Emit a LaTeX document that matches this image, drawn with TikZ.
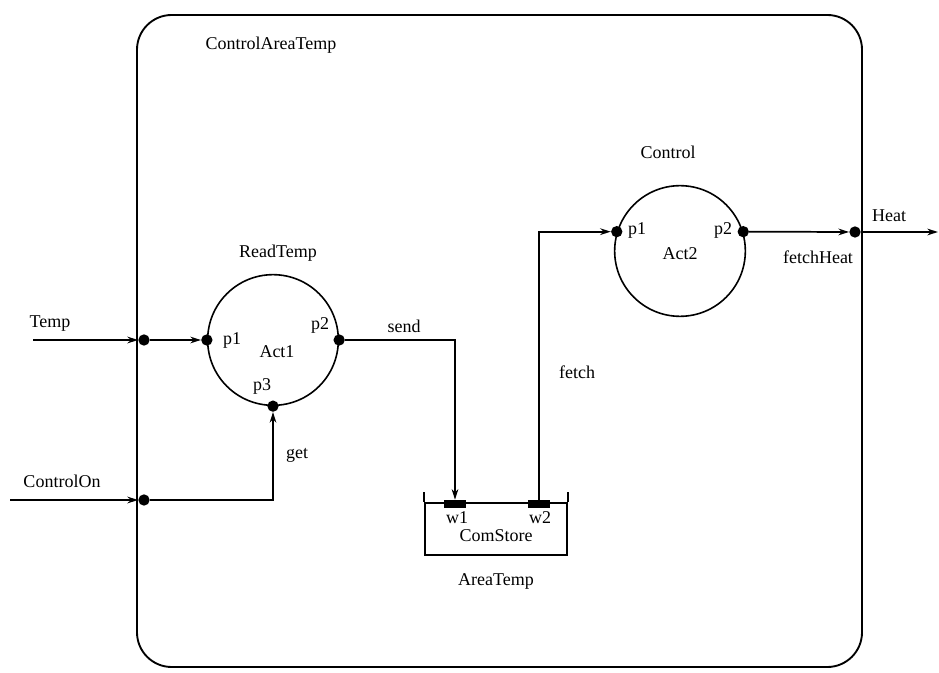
\documentclass[tikz,border=0pt]{standalone}
\usepackage{fontspec}
\setmainfont{Liberation Serif}
\usetikzlibrary{arrows.meta}
\begin{document}
\begin{tikzpicture}[x=0.75pt,y=-0.75pt,
  every node/.style={font=\fontsize{13.5}{15}\selectfont},
  line/.style={line width=1.3pt},
  arr/.style={line width=1.3pt,-{Stealth[length=8pt,width=5pt]}},
  proc/.style={draw,circle,line width=1.2pt,minimum size=98pt,inner sep=0pt},
  dot/.style={circle,fill=black,inner sep=0pt,minimum size=8.5pt},
  wport/.style={rectangle,fill=black,inner sep=0pt,minimum width=16.5pt,minimum height=6pt},
  lbl/.style={inner sep=1pt}]
\useasboundingbox (0,0) rectangle (939,673);
\draw[line width=1.4pt,rounded corners=26pt] (137,15) rectangle (862,667);
\node[lbl] (title) at (271,45) {ControlAreaTemp};

% ReadTemp process
\node[proc] (rt) at (273,340) {};
\node[lbl] (rtname) at (278,253) {ReadTemp};
\node[lbl] (act1) at (277,352) {Act1};
\node[dot] (rp1) at (rt.180) {};
\node[dot] (rp2) at (rt.0) {};
\node[dot] (rp3) at (rt.-90) {};
\node[lbl] (lp1) at (232,340) {p1};
\node[lbl] (lp2) at (320,325) {p2};
\node[lbl] (lp3) at (262,386) {p3};

% Control process
\node[proc] (ct) at (680,251) {};
\node[lbl] (ctname) at (668,152) {Control};
\node[lbl] (act2) at (680,254) {Act2};
\node[dot] (cp1) at (ct.163) {};
\node[dot] (cp2) at (ct.17) {};
\node[lbl] (lcp1) at (637,230) {p1};
\node[lbl] (lcp2) at (723,230) {p2};

% AreaTemp store
\node[draw,line width=1.2pt,rectangle,minimum width=106.5pt,minimum height=39pt,inner sep=0pt] (store) at (496,529) {};
\draw[line width=1.2pt] (store.north west) -- ++(0,-10);
\draw[line width=1.2pt] (store.north east) -- ++(0,-10);
\node[wport] (w1) at (455,504) {};
\node[wport] (w2) at (539,504) {};
\node[lbl] (lw1) at (457,518) {w1};
\node[lbl] (lw2) at (540,518) {w2};
\node[lbl] (cs) at (496,536) {ComStore};
\node[lbl] (at) at (496,581) {AreaTemp};

% boundary junctions
\node[dot] (tj) at (144,340) {};
\node[dot] (cj) at (144,500) {};
\node[dot] (hj) at (855,232) {};
\coordinate (tin) at (33,340);
\coordinate (cin) at (10,500);
\coordinate (hout) at (938,232);

\node[lbl] (ltemp) at (50,324) {Temp};
\node[lbl] (lcon) at (62,481) {ControlOn};
\node[lbl] (lheat) at (889,216) {Heat};
\node[lbl] (lsend) at (404,326) {send};
\node[lbl] (lget) at (297,455) {get};
\node[lbl] (lfetch) at (577,372) {fetch};
\node[lbl] (lfh) at (818,257) {fetchHeat};

% connectors
\draw[arr] (tin) -- (tj);
\draw[arr] (tj) -- (rp1);
\draw[arr] (cin) -- (cj);
\draw[arr] (cj) -| (rp3);
\draw[arr] (rp2) -| (w1);
\draw[arr] (w2) |- (cp1);
\draw[arr] (cp2) -- (hj);
\draw[arr] (hj) -- (hout);
\end{tikzpicture}
\end{document}
